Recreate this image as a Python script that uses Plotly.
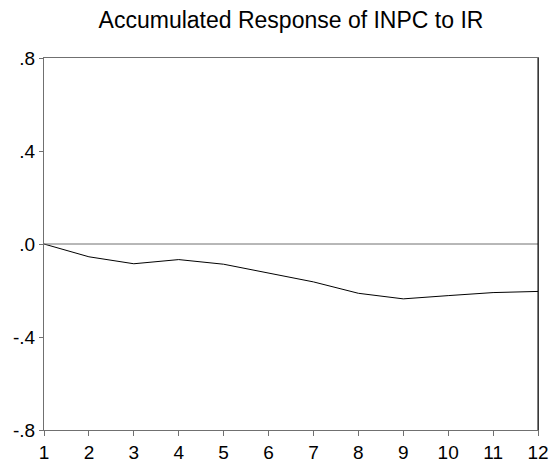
import plotly.graph_objects as go

# Accumulated impulse response of INPC to an IR shock, periods 1-12
periods = [1, 2, 3, 4, 5, 6, 7, 8, 9, 10, 11, 12]
response = [0.0, -0.055, -0.085, -0.067, -0.087, -0.124, -0.163, -0.212, -0.236, -0.222, -0.209, -0.204]

y_ticks = [0.8, 0.4, 0.0, -0.4, -0.8]
y_tick_text = [".8", ".4", ".0", "-.4", "-.8"]
x_ticks = periods
x_tick_text = [str(p) for p in periods]

FONT = "Liberation Sans, Arial, sans-serif"
GRAY = "#707070"

fig = go.Figure()
fig.add_trace(go.Scatter(
    x=periods, y=response, mode="lines",
    line=dict(color="black", width=1),
    showlegend=False, hoverinfo="skip",
))

# zero reference line and right frame edge
fig.add_shape(type="line", xref="paper", x0=0, x1=1, yref="y", y0=0, y1=0,
              line=dict(color=GRAY, width=1))
fig.add_shape(type="line", xref="paper", x0=1, x1=1, yref="paper", y0=0, y1=1,
              line=dict(color="black", width=1))

fig.update_layout(
    width=560, height=464,
    margin=dict(l=44, r=22, t=58, b=34),
    paper_bgcolor="white", plot_bgcolor="white",
    font=dict(family=FONT, color="black", size=19),
    title=dict(text="Accumulated Response of INPC to IR",
               x=(44 + 538) / 2 / 560, xanchor="center",
               y=1 - 20 / 464, yanchor="middle", yref="container",
               font=dict(family=FONT, size=23, color="black")),
    xaxis=dict(range=[1, 12], tickvals=x_ticks, ticktext=x_tick_text,
               showgrid=False, zeroline=False, showline=True, linecolor=GRAY,
               linewidth=1, mirror=True, ticks="outside", ticklen=5,
               tickcolor=GRAY, tickfont=dict(size=19), automargin=False),
    yaxis=dict(range=[-0.8, 0.8], tickvals=y_ticks, ticktext=y_tick_text,
               showgrid=False, zeroline=False, showline=True, linecolor=GRAY,
               linewidth=1, mirror=True, ticks="outside", ticklen=4,
               tickcolor=GRAY, tickfont=dict(size=19), automargin=False),
)

fig.write_html("out.html")
